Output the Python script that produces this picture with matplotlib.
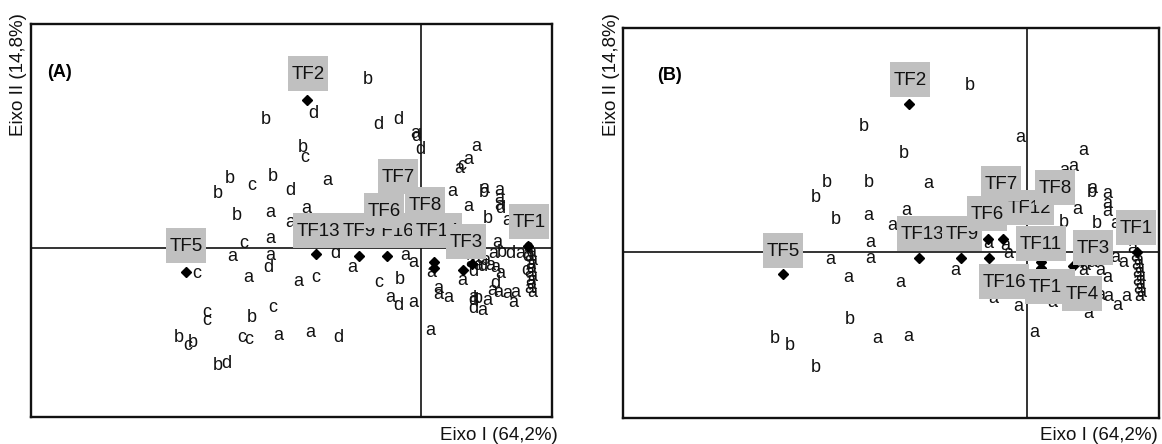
import matplotlib
import matplotlib.pyplot as plt
from matplotlib.patches import Rectangle

matplotlib.use('Agg')
plt.rcParams['font.family'] = ['Liberation Sans', 'DejaVu Sans']

# ---------------- Panel A ----------------
a_let = list("bbbcbdbaaabcdbddadda" "caaadcaccbcbcbccabdad" "acdaaacbada" "aaaaaadaaaca"
             "baaaadabaa" "abdaaadaaaaa" "adbada" "aaadaa" "aaaaaaaaaaaadc")
a_x = [-1.55, -2.03, -1.91, -1.69, -1.48, -1.31, -1.84, -1.51, -1.15, -0.94,
       -1.18, -1.16, -1.08, -0.53, -0.43, -0.23, -0.06, -0.05, -0.01, -1.31,
       -1.77, -1.51, -1.89, -1.51, -1.53, -2.24, -1.73, -2.14, -2.14, -1.69,
       -1.48, -2.42, -2.33, -2.28, -1.79, -1.72, -1.43, -2.03, -1.95, -1.11, -0.83,
       -1.23, -1.05, -0.86, -0.69, -0.16, -0.08, -0.42, -0.21, -0.31, -0.23, -0.08,
       0.09, 0.10, 0.17, 0.17, 0.27, 0.41, 0.52, 0.55, 0.47, 0.38, 0.41, 0.31,
       0.63, 0.63, 0.78, 0.78, 0.78, 0.79, 0.47, 0.67, 0.86, 0.76,
       0.72, 0.81, 0.89, 0.99, 0.74, 0.79, 0.74, 0.71, 0.77, 0.86, 0.94, 0.92,
       0.52, 0.52, 0.57, 0.66, 0.52, 0.61,
       0.49, 0.57, 0.64, 0.61, 0.69, 0.54,
       1.07, 1.10, 1.08, 1.11, 1.09, 1.10, 1.08, 1.11, 1.09, 1.10, 1.08, 1.11, 1.06, 1.05]
a_y = [1.29, 0.55, 0.70, 0.63, 0.72, 0.58, 0.33, 0.36, 0.40, 0.68,
       1.01, 0.91, 1.35, 1.69, 1.24, 1.29, 1.15, 1.12, 0.99, 0.26,
       0.05, 0.10, -0.08, -0.07, -0.19, -0.25, -0.29, -0.64, -0.72, -0.69,
       -0.59, -0.89, -0.97, -0.94, -0.89, -0.91, -0.87, -1.17, -1.15, -0.84, -0.89,
       -0.33, -0.29, -0.05, -0.19, -0.07, -0.14, -0.34, -0.31, -0.49, -0.57, -0.54,
       -0.82, -0.24, -0.40, -0.46, -0.49, -0.32, -0.23, 1.02, 0.89, 0.80, 0.83, 0.57,
       0.56, 0.60, 0.58, 0.50, 0.43, 0.40, 0.42, 0.30, 0.28, 0.06,
       -0.05, -0.04, -0.05, -0.05, -0.19, -0.25, -0.35, -0.42, -0.44, -0.45, -0.44, -0.54,
       -0.49, -0.52, -0.50, -0.52, -0.60, -0.62,
       -0.14, -0.17, -0.12, -0.18, -0.17, -0.10,
       0.01, -0.04, -0.08, -0.12, -0.16, -0.20, -0.24, -0.28, -0.32, -0.36, -0.40, -0.44, -0.08, -0.22]

a_cx = [-1.14, -2.35, -1.05, -0.62, -0.34, 0.13, 0.13, 0.42, 0.51, 1.07]
a_cy = [1.48, -0.24, -0.06, -0.08, -0.08, -0.14, -0.20, -0.22, -0.16, 0.02]

a_tags = ["TF2", "TF5", "TF13", "TF16", "TF9", "TF14", "TF3", "TF7", "TF6", "TF8", "TF1"]
a_tx = [-1.13, -2.35, -1.03, -0.29, -0.62, 0.16, 0.45, -0.23, -0.37, 0.04, 1.08]
a_ty = [1.75, 0.03, 0.18, 0.18, 0.18, 0.18, 0.07, 0.72, 0.38, 0.44, 0.27]

# ---------------- Panel B ----------------
b_let = list("bbbabbbabaaaaaaaaabbbbaa" "aaaaaaa" "aaabaaaaabbaa" "aaaaaaaaaa" "aaa" "aaaaaaaaaaa")
b_x = [-1.63, -0.57, -1.23, -0.07, -2.00, -2.11, -1.58, -0.99, -1.91, -1.59, -1.21, -1.35,
       -1.57, -1.57, -1.97, -1.79, -1.27, -0.72, -1.77, -2.52, -2.37, -2.11, -1.50, -1.19,
       -0.39, -0.22, -0.19, -0.34, -0.09, 0.07, 0.25,
       0.56, 0.46, 0.37, 0.65, 0.65, 0.80, 0.80, 0.80, 0.50, 0.37, 0.70, 0.88, 1.05,
       0.88, 0.96, 0.73, 0.56, 0.80, 0.61, 0.73, 0.81, 0.90, 0.99,
       0.51, 0.58, 0.65,
       1.08, 1.11, 1.09, 1.12, 1.10, 1.13, 1.10, 1.13, 1.11, 1.14, 1.12]
b_y = [1.26, 1.67, 0.99, 1.15, 0.70, 0.55, 0.70, 0.69, 0.33, 0.37, 0.42, 0.27,
       0.10, -0.06, -0.07, -0.25, -0.30, -0.18, -0.67, -0.86, -0.93, -1.15, -0.86, -0.84,
       0.09, 0.07, -0.01, -0.46, -0.54, -0.80, -0.50,
       1.02, 0.86, 0.82, 0.60, 0.64, 0.59, 0.49, 0.41, 0.43, 0.30, 0.29, 0.29, 0.04,
       -0.05, -0.10, -0.18, -0.18, -0.25, -0.61, -0.43, -0.44, -0.53, -0.44,
       -0.10, -0.13, -0.10,
       -0.04, -0.08, -0.12, -0.16, -0.20, -0.24, -0.28, -0.32, -0.36, -0.40, -0.44]

b_cx = [-1.18, -2.44, -1.08, -0.66, -0.38, -0.39, -0.24, 0.14, 0.14, 0.46, 1.10]
b_cy = [1.48, -0.22, -0.06, -0.06, -0.06, 0.13, 0.13, -0.10, -0.16, -0.14, 0.00]

b_tags = ["TF2", "TF5", "TF13", "TF9", "TF6", "TF12", "TF7", "TF8", "TF11", "TF3", "TF1",
          "TF16", "TF15", "TF4"]
b_tx = [-1.17, -2.44, -1.05, -0.65, -0.40, 0.02, -0.26, 0.28, 0.14, 0.66, 1.09, -0.23, 0.23, 0.55]
b_ty = [1.73, 0.02, 0.19, 0.19, 0.39, 0.45, 0.69, 0.65, 0.09, 0.05, 0.25, -0.29, -0.34, -0.41]


def add_tags(ax, names, xs, ys):
    renderer = ax.figure.canvas.get_renderer()
    inv = ax.transData.inverted()
    for i, (n, x, y) in enumerate(zip(names, xs, ys)):
        z = 5 + 2 * i
        t = ax.text(x, y - 0.06, n, ha='center', va='baseline',
                    fontsize=13.5, color='#111111', zorder=z + 1)
        bb = t.get_window_extent(renderer)
        (x0, _), (x1, _) = inv.transform([[bb.x0, 0], [bb.x1, 0]])
        w = (x1 - x0) + 0.07
        ax.add_patch(Rectangle((x - w / 2, y - 0.175), w, 0.35,
                               facecolor='#c0c0c0', edgecolor='none', zorder=z))


def panel(ax, xlim, ylim, let, lx, ly, cx, cy, tags, tx, ty, tag, tag_x):
    ax.set_xlim(*xlim)
    ax.set_ylim(*ylim)
    ax.set_xticks([])
    ax.set_yticks([])
    for s in ax.spines.values():
        s.set_linewidth(1.7)
        s.set_color('#111111')
    ax.axhline(0, color='#111111', lw=1.2, zorder=1)
    ax.axvline(0, color='#111111', lw=1.2, zorder=1)
    for c, x, y in zip(let, lx, ly):
        ax.text(x, y, c, ha='center', va='center', fontsize=13,
                color='#111111', zorder=2)
    ax.plot(cx, cy, 'D', color='black', ms=5.5, zorder=3)
    add_tags(ax, tags, tx, ty)
    ax.text(tag_x, 0.877, tag, transform=ax.transAxes, fontsize=13,
            fontweight='bold', ha='left', va='center')


fig = plt.figure(figsize=(11.62, 4.44), dpi=100)
fig.patch.set_facecolor('white')

axA = fig.add_axes([31 / 1162, 27 / 444, 521 / 1162, 393 / 444])
axB = fig.add_axes([623 / 1162, 26 / 444, 536 / 1162, 390 / 444])

panel(axA, (-3.90, 1.31), (-1.69, 2.24), a_let, a_x, a_y, a_cx, a_cy,
      a_tags, a_tx, a_ty, "(A)", 0.031)
panel(axB, (-4.04, 1.32), (-1.66, 2.24), b_let, b_x, b_y, b_cx, b_cy,
      b_tags, b_tx, b_ty, "(B)", 0.063)

for xl, xr in [(19, 558), (612, 1158)]:
    fig.text(xl / 1162, 1 - 13 / 444, "Eixo II (14,8%)", rotation=90,
             ha='center', va='top', fontsize=13.5, color='#111111')
    fig.text(xr / 1162, 1 - 435 / 444, "Eixo I (64,2%)", ha='right',
             va='center', fontsize=13.5, color='#111111')

fig.savefig('out.png', dpi=100)
